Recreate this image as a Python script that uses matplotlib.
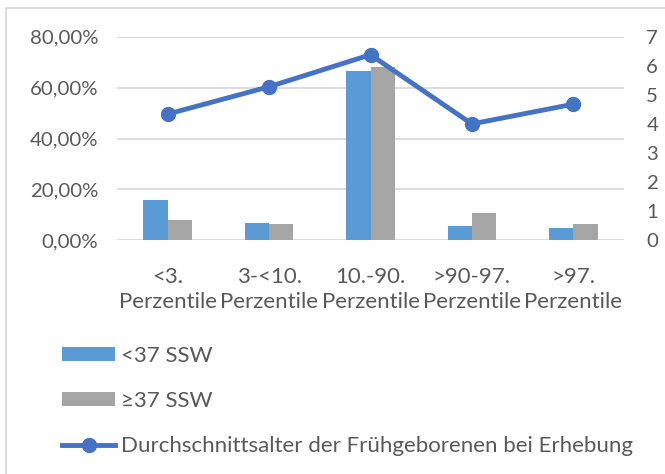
import numpy as np
import matplotlib.pyplot as plt
from matplotlib.patches import Rectangle

# --- Data ---
categories = ['<3.\nPerzentile', '3-<10.\nPerzentile', '10.-90.\nPerzentile',
              '>90-97.\nPerzentile', '>97.\nPerzentile']
preterm = [15.8, 6.8, 66.4, 5.8, 4.7]        # <37 SSW, percent
term = [7.8, 6.5, 68.1, 10.6, 6.5]           # >=37 SSW, percent
mean_age = [4.34, 5.28, 6.38, 4.0, 4.68]     # right axis

left_ticks = [0, 20, 40, 60, 80]
left_labels = ['0,00%', '20,00%', '40,00%', '60,00%', '80,00%']
right_ticks = list(range(8))

# --- Style ---
text_col = '#595959'
blue = '#5B9BD5'
gray = '#A5A5A5'
line_col = '#4472C4'
grid_col = '#D9D9D9'
plt.rcParams['font.family'] = ['Lato', 'DejaVu Sans']
fs_y = 14.7
fs = 16

fig = plt.figure(figsize=(6.65, 4.74), dpi=100)
ax = fig.add_axes([117 / 665, 1 - 240.3 / 474, (624 - 117) / 665, (240.3 - 36.7) / 474])

x = np.arange(len(categories))
w = 0.24
b1 = ax.bar(x - w / 2, preterm, w, color=blue, label='<37 SSW', zorder=2)
b2 = ax.bar(x + w / 2, term, w, color=gray, label='\u226537 SSW', zorder=2)

ax.set_xlim(-0.5, len(categories) - 0.5)
ax.set_ylim(0, 80)
ax.set_yticks(left_ticks)
ax.set_yticklabels(left_labels)
ax.set_xticks(x)
ax.set_xticklabels(categories)
for lab in ax.get_xticklabels():
    lab.set_linespacing(1.36)
ax.yaxis.grid(True, color=grid_col, linewidth=1.3, zorder=0)
ax.tick_params(axis='both', length=0, labelcolor=text_col)
ax.tick_params(axis='y', pad=13.5, labelsize=fs_y)
ax.tick_params(axis='x', pad=19, labelsize=fs)
for s in ax.spines.values():
    s.set_visible(False)

ax2 = ax.twinx()
ln, = ax2.plot(x, mean_age, color=line_col, linewidth=3.5, marker='o', markersize=10,
               label='Durchschnittsalter der Frühgeborenen bei Erhebung', zorder=3)
ax2.set_ylim(0, 7)
ax2.set_yticks(right_ticks)
ax2.tick_params(axis='y', length=0, labelsize=fs_y, labelcolor=text_col, pad=16)
for s in ax2.spines.values():
    s.set_visible(False)

# --- Legend ---
fig.legend(handles=[b1, b2, ln], loc='upper left', bbox_to_anchor=(62 / 665, 1 - 346 / 474),
           frameon=False, fontsize=fs, labelcolor=text_col, handlelength=2.4,
           handleheight=0.6, handletextpad=0.27, labelspacing=1.13, borderaxespad=0,
           borderpad=0)

# --- Chart border ---
fig.patches.append(Rectangle((6 / 665, -0.1), 1.2, 1 - 8 / 474 + 0.1,
                             transform=fig.transFigure, fill=False,
                             edgecolor='#D9D9D9', linewidth=1.3))

fig.savefig('out.png', dpi=100)
